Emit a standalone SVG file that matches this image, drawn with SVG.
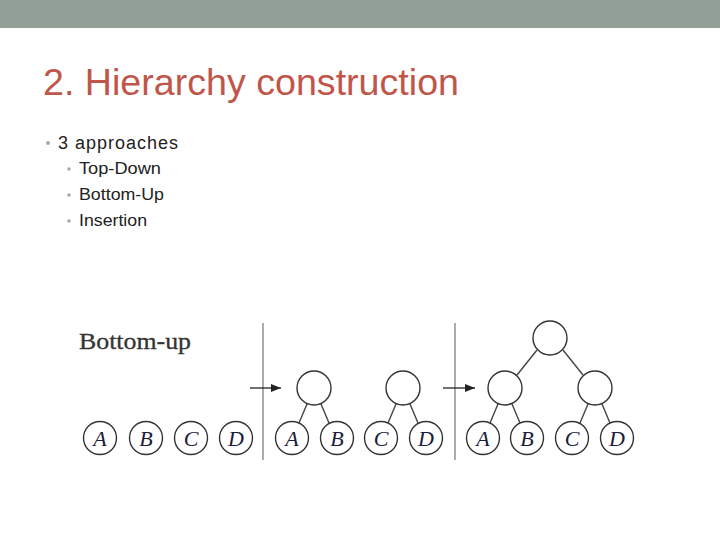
<svg xmlns="http://www.w3.org/2000/svg" width="720" height="540" viewBox="0 0 720 540">
<style>
.title{font-family:"Liberation Sans",Arial,sans-serif;font-size:37px;fill:#c0564a}
.b1{font-family:"Liberation Sans",Arial,sans-serif;font-size:18px;fill:#222}
.b2{font-family:"Liberation Sans",Arial,sans-serif;font-size:17px;fill:#222}
.dot{fill:#aaa}
.node{fill:#fff;stroke:#333;stroke-width:1.4}
.lbl{font-family:"Liberation Serif","Times New Roman",serif;font-style:italic;font-size:22px;fill:#1c1c3c;text-anchor:middle}
.edge{stroke:#444;stroke-width:1.4;fill:none}
.sep{stroke:#888;stroke-width:1.4}
.arr{stroke:#222;stroke-width:1.3;fill:none}
</style>
<defs>
<marker id="ah" viewBox="0 0 10 8" refX="10" refY="4" markerWidth="15" markerHeight="8" markerUnits="userSpaceOnUse" orient="auto">
<path d="M0,0 L10,4 L0,8 Z" fill="#222"/>
</marker>
</defs>
<rect x="0" y="0" width="720" height="28" fill="#929f97"/>
<text class="title" x="43" y="95" textLength="416" lengthAdjust="spacingAndGlyphs">2. Hierarchy construction</text>
<circle class="dot" cx="48" cy="143" r="2"/>
<text class="b1" x="58" y="149" textLength="120">3 approaches</text>
<circle class="dot" cx="69" cy="169" r="1.8"/>
<text class="b2" x="79" y="174" textLength="82" lengthAdjust="spacingAndGlyphs">Top-Down</text>
<circle class="dot" cx="69" cy="195" r="1.8"/>
<text class="b2" x="79" y="200" textLength="85" lengthAdjust="spacingAndGlyphs">Bottom-Up</text>
<circle class="dot" cx="69" cy="221" r="1.8"/>
<text class="b2" x="79" y="226" textLength="68" lengthAdjust="spacingAndGlyphs">Insertion</text>
<text x="79" y="349" textLength="112" lengthAdjust="spacingAndGlyphs" style="font-family:'Liberation Serif','Times New Roman',serif;font-size:23px;fill:#333;stroke:#333;stroke-width:0.3">Bottom-up</text>
<g id="connectors">
<line class="sep" x1="263" y1="323" x2="263" y2="460"/>
<line class="sep" x1="455" y1="323" x2="455" y2="460"/>
<line class="arr" x1="250" y1="388" x2="281" y2="388" marker-end="url(#ah)"/>
<line class="arr" x1="443" y1="388" x2="475" y2="388" marker-end="url(#ah)"/>
<line class="edge" x1="307" y1="404" x2="299" y2="423"/>
<line class="edge" x1="321" y1="404" x2="329" y2="423"/>
<line class="edge" x1="396" y1="404" x2="388" y2="423"/>
<line class="edge" x1="410" y1="404" x2="418" y2="423"/>
<line class="edge" x1="498" y1="404" x2="490" y2="423"/>
<line class="edge" x1="512" y1="404" x2="520" y2="423"/>
<line class="edge" x1="588" y1="404" x2="580" y2="423"/>
<line class="edge" x1="602" y1="404" x2="610" y2="423"/>
<line class="edge" x1="537" y1="350" x2="517" y2="375"/>
<line class="edge" x1="563" y1="350" x2="583" y2="375"/>
</g>
<g id="p1-A"><circle class="node" cx="100" cy="438" r="16.5"/><text class="lbl" x="100" y="446">A</text></g>
<g id="p1-B"><circle class="node" cx="146" cy="438" r="16.5"/><text class="lbl" x="146" y="446">B</text></g>
<g id="p1-C"><circle class="node" cx="191" cy="438" r="16.5"/><text class="lbl" x="191" y="446">C</text></g>
<g id="p1-D"><circle class="node" cx="236" cy="438" r="16.5"/><text class="lbl" x="236" y="446">D</text></g>
<g id="p2-AB"><circle class="node" cx="314" cy="388" r="17"/></g>
<g id="p2-CD"><circle class="node" cx="403" cy="388" r="17"/></g>
<g id="p2-A"><circle class="node" cx="292" cy="438" r="16.5"/><text class="lbl" x="292" y="446">A</text></g>
<g id="p2-B"><circle class="node" cx="337" cy="438" r="16.5"/><text class="lbl" x="337" y="446">B</text></g>
<g id="p2-C"><circle class="node" cx="381" cy="438" r="16.5"/><text class="lbl" x="381" y="446">C</text></g>
<g id="p2-D"><circle class="node" cx="426" cy="438" r="16.5"/><text class="lbl" x="426" y="446">D</text></g>
<g id="p3-root"><circle class="node" cx="550" cy="338" r="17"/></g>
<g id="p3-AB"><circle class="node" cx="505" cy="388" r="17"/></g>
<g id="p3-CD"><circle class="node" cx="595" cy="388" r="17"/></g>
<g id="p3-A"><circle class="node" cx="483" cy="438" r="16.5"/><text class="lbl" x="483" y="446">A</text></g>
<g id="p3-B"><circle class="node" cx="527" cy="438" r="16.5"/><text class="lbl" x="527" y="446">B</text></g>
<g id="p3-C"><circle class="node" cx="572" cy="438" r="16.5"/><text class="lbl" x="572" y="446">C</text></g>
<g id="p3-D"><circle class="node" cx="617" cy="438" r="16.5"/><text class="lbl" x="617" y="446">D</text></g>
</svg>
